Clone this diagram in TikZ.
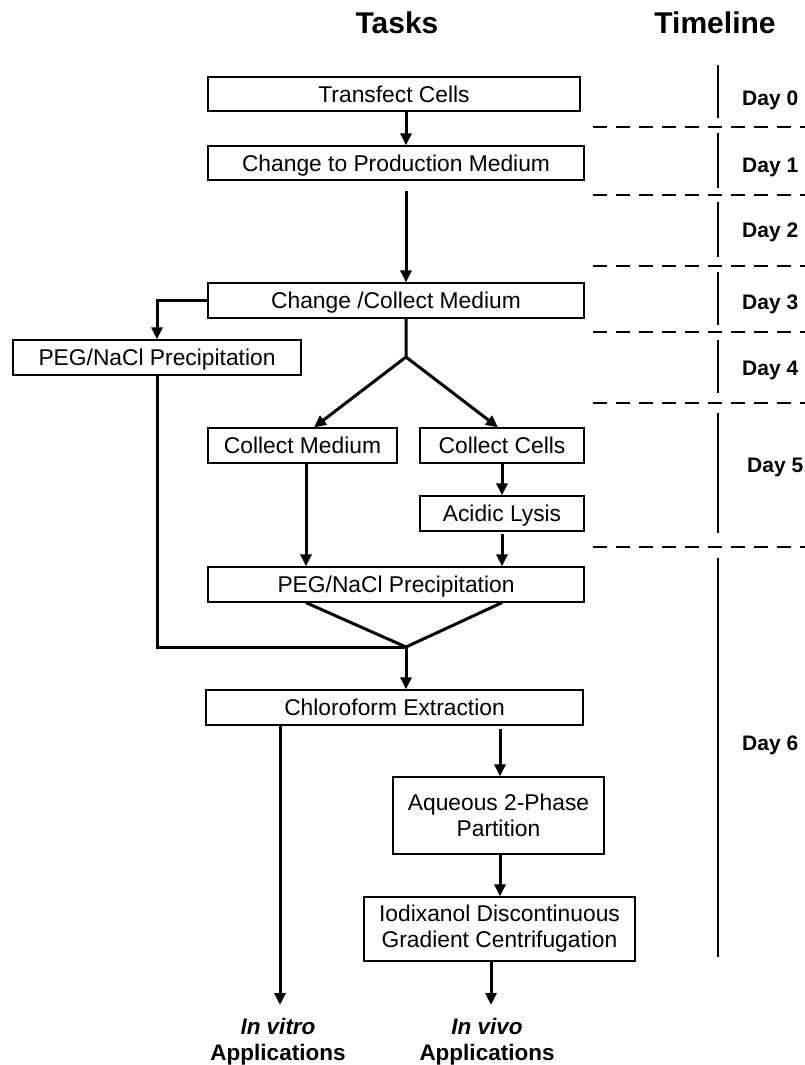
\documentclass[tikz,border=0pt]{standalone}
\usepackage{fontspec}
\setmainfont{Liberation Sans}
\usetikzlibrary{arrows.meta,calc}
\begin{document}
\begin{tikzpicture}[x=1pt,y=-1pt,
  box/.style={draw, line width=1.3pt, inner sep=0pt, font=\fontsize{22.8}{26}\selectfont, align=center},
  box1/.style={box, text height=16.3pt, text depth=0pt},
  arr/.style={line width=3pt, -{Triangle[length=12pt,width=11pt]}},
  link/.style={line width=3pt},
  day/.style={font=\fontsize{21}{24}\selectfont\bfseries, anchor=base west, inner sep=0pt},
  title/.style={font=\fontsize{30}{36}\selectfont\bfseries, inner sep=0pt},
  appl/.style={font=\fontsize{22.5}{26}\selectfont\bfseries, align=center, inner sep=0pt, anchor=north},
  tl/.style={line width=1.8pt},
  sep/.style={line width=2.2pt, dash pattern=on 14pt off 9pt}]
\useasboundingbox (0,0) rectangle (805,1065);

% titles
\node[title] (tasks) at (397,23) {Tasks};
\node[title] (timeline) at (715,23) {Timeline};

% column coordinates
\coordinate (cA) at (406,0);
\coordinate (cB) at (306,0);
\coordinate (cC) at (502,0);
\coordinate (cD) at (280,0);
\coordinate (cE) at (500,0);
\coordinate (cF) at (491,0);

% boxes
\node[box1, minimum width=372pt, minimum height=34pt] (tc) at (394,94) {Transfect Cells};
\node[box1, minimum width=376pt, minimum height=34pt] (prod) at (396,163) {Change to Production Medium};
\node[box1, minimum width=376pt, minimum height=35pt] (chg) at (396,300.5) {Change /Collect Medium};
\node[box1, minimum width=288pt, minimum height=35pt] (pegl) at (157,357.5) {PEG/NaCl Precipitation};
\node[box1, minimum width=189pt, minimum height=35pt] (cm) at (302.5,445.5) {Collect Medium};
\node[box1, minimum width=164pt, minimum height=35pt] (cc) at (502,445.5) {Collect Cells};
\node[box1, minimum width=164pt, minimum height=35pt] (al) at (502,513.5) {Acidic Lysis};
\node[box1, minimum width=376pt, minimum height=35pt] (pegm) at (396,584.5) {PEG/NaCl Precipitation};
\node[box1, minimum width=377pt, minimum height=35pt] (chl) at (394.5,707.5) {Chloroform Extraction};
\node[box, minimum width=211pt, minimum height=77pt] (aq) at (498.5,815.5) {Aqueous 2-Phase\\Partition};
\node[box, minimum width=271pt, minimum height=64pt] (io) at (499.5,929) {Iodixanol Discontinuous\\Gradient Centrifugation};

% applications
\node[appl] (vitro) at (278,1018) {\textit{In vitro}\\Applications};
\node[appl] (vivo) at (487,1018) {\textit{In vivo}\\Applications};

% connectors
\draw[arr] (tc.south -| cA) -- (prod.north -| cA);
\draw[arr, shorten <=10pt] (prod.south -| cA) -- (chg.north -| cA);
\draw[arr] (chg.west) -| (pegl.north);
\coordinate (split) at (406,357);
\draw[arr] (chg.south -| cA) -- (split) -- ($(cm.north)+(11.5,0)$);
\draw[arr] (split) -- ($(cc.north)+(-4,0)$);
\draw[arr] (cc.south) -- (al.north);
\draw[arr] (cm.south -| cB) -- (pegm.north -| cB);
\draw[arr, shorten <=2pt] (al.south) -- (pegm.north -| cC);
\coordinate (join) at (406,647);
\draw[link] (pegm.south -| cB) -- (join) -- (pegm.south -| cC);
\draw[link] (pegl.south) |- (join);
\draw[arr] (join) -- (chl.north -| cA);
\draw[arr, shorten >=13pt] (chl.south -| cD) -- (vitro.north -| cD);
\draw[arr, shorten <=3pt] (chl.south -| cE) -- (aq.north -| cE);
\draw[arr] (aq.south -| cE) -- (io.north -| cE);
\draw[arr, shorten >=13pt] (io.south -| cF) -- (vivo.north -| cF);

% timeline
\foreach \a/\b in {65/118, 133/188, 202/257, 272/325, 340/393, 413/533, 558/957}
  \draw[tl] (718,\a) -- (718,\b);
\foreach \y in {127, 195, 266, 332, 403, 547}
  \draw[sep] (593,\y) -- (805,\y);
\node[day] (d0) at (742,105.5) {Day 0};
\node[day] (d1) at (742,172.5) {Day 1};
\node[day] (d2) at (742,237.5) {Day 2};
\node[day] (d3) at (742,309.5) {Day 3};
\node[day] (d4) at (742,375.5) {Day 4};
\node[day] (d5) at (747,472.5) {Day 5};
\node[day] (d6) at (742,750.5) {Day 6};
\end{tikzpicture}
\end{document}
